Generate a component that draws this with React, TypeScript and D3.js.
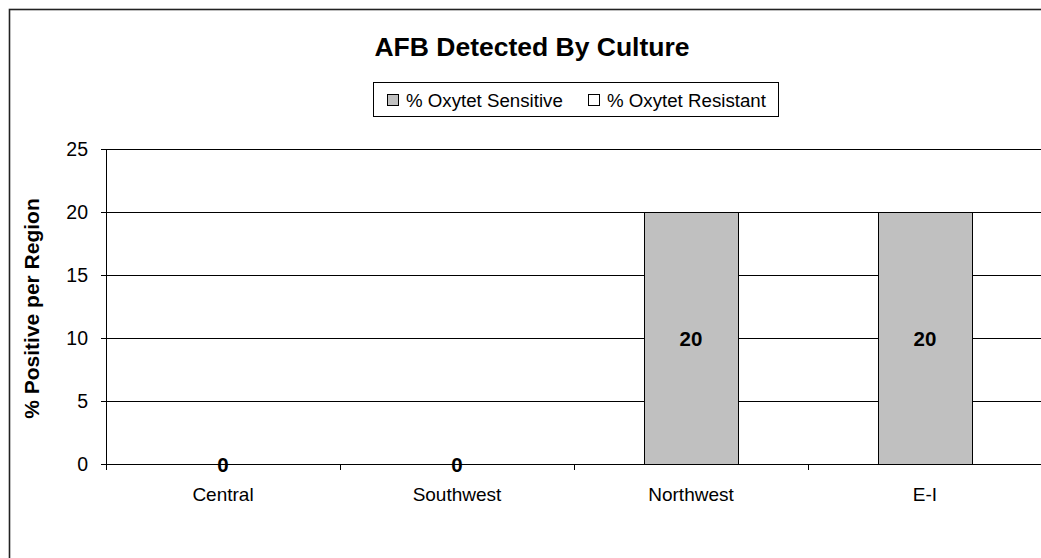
import React from "react";
import * as d3 from "d3";

const categories = ["Central", "Southwest", "Northwest", "E-I"];
const sensitive = [0, 0, 20, 20];
const resistant = [0, 0, 0, 0];
const yTicks = [0, 5, 10, 15, 20, 25];
const seriesNames = ["% Oxytet Sensitive", "% Oxytet Resistant"];
const title = "AFB Detected By Culture";
const yTitle = "% Positive per Region";

const W = 1041;
const H = 558;
const font = "Arial, 'Liberation Sans', sans-serif";

export default function App() {
  const left = 106;
  const bandW = 234;
  const x = d3.scaleBand<string>().domain(categories).range([left, left + bandW * categories.length]).paddingInner(0.6).paddingOuter(0.3);
  const y = d3.scaleLinear().domain([0, 25]).range([464, 149]);
  const bw = x.bandwidth();
  const boundaries = d3.range(categories.length + 1).map((i) => left + i * bandW);
  const right = left + bandW * categories.length;

  return (
    <svg width={W} height={H} style={{ position: "absolute", left: 0, top: 0, background: "#fff" }}>
      <rect x={9.5} y={9.5} width={W + 20} height={H + 20} fill="#fff" stroke="#222" strokeWidth={1.6} />
      <text x={532} y={56} textAnchor="middle" fontFamily={font} fontWeight="bold" fontSize={26.5}>{title}</text>
      {/* legend */}
      <rect x={373.5} y={82.5} width={405} height={34} fill="#fff" stroke="#000" strokeWidth={1} />
      <rect x={387.5} y={94.5} width={11} height={11} fill="#C0C0C0" stroke="#000" strokeWidth={1} />
      <text x={406} y={107} fontFamily={font} fontSize={18.7}>{seriesNames[0]}</text>
      <rect x={588.5} y={94.5} width={11} height={11} fill="#fff" stroke="#000" strokeWidth={1} />
      <text x={607} y={107} fontFamily={font} fontSize={18.7}>{seriesNames[1]}</text>
      {/* gridlines */}
      {yTicks.map((t) => (
        <line key={"g" + t} x1={left} x2={right} y1={Math.round(y(t)) + 0.5} y2={Math.round(y(t)) + 0.5} stroke="#000" strokeWidth={1} />
      ))}
      {/* bars */}
      {categories.map((c, i) => (
        <g key={c}>
          {sensitive[i] > 0 && (
            <rect x={Math.round(x(c)!) + 0.5} y={Math.round(y(sensitive[i])) + 0.5} width={Math.round(bw)} height={Math.round(y(0) - y(sensitive[i]))} fill="#C0C0C0" stroke="#000" strokeWidth={1} />
          )}
          {resistant[i] > 0 && (
            <rect x={Math.round(x(c)!) + 0.5} y={Math.round(y(sensitive[i] + resistant[i])) + 0.5} width={Math.round(bw)} height={Math.round(y(sensitive[i]) - y(sensitive[i] + resistant[i]))} fill="#fff" stroke="#000" strokeWidth={1} />
          )}
        </g>
      ))}
      {/* axes */}
      <line x1={left + 0.5} x2={left + 0.5} y1={y(25)} y2={y(0) + 6} stroke="#000" strokeWidth={1} />
      {yTicks.map((t) => (
        <g key={"t" + t}>
          <line x1={left - 5} x2={left} y1={Math.round(y(t)) + 0.5} y2={Math.round(y(t)) + 0.5} stroke="#000" strokeWidth={1} />
          <text x={88} y={y(t) + 7} textAnchor="end" fontFamily={font} fontSize={19.5}>{t}</text>
        </g>
      ))}
      {boundaries.map((b, i) => (
        <line key={"b" + i} x1={b + 0.5} x2={b + 0.5} y1={y(0)} y2={y(0) + 6} stroke="#000" strokeWidth={1} />
      ))}
      {categories.map((c) => (
        <text key={"l" + c} x={x(c)! + bw / 2} y={501} textAnchor="middle" fontFamily={font} fontSize={19}>{c}</text>
      ))}
      {/* data labels */}
      {categories.map((c, i) => (
        <text key={"d" + c} x={x(c)! + bw / 2} y={(y(0) + y(sensitive[i])) / 2 + 7.5} textAnchor="middle" fontFamily={font} fontWeight="bold" fontSize={20.5}>{sensitive[i]}</text>
      ))}
      <text transform={`translate(39,308.5) rotate(-90)`} textAnchor="middle" fontFamily={font} fontWeight="bold" fontSize={21}>{yTitle}</text>
    </svg>
  );
}
